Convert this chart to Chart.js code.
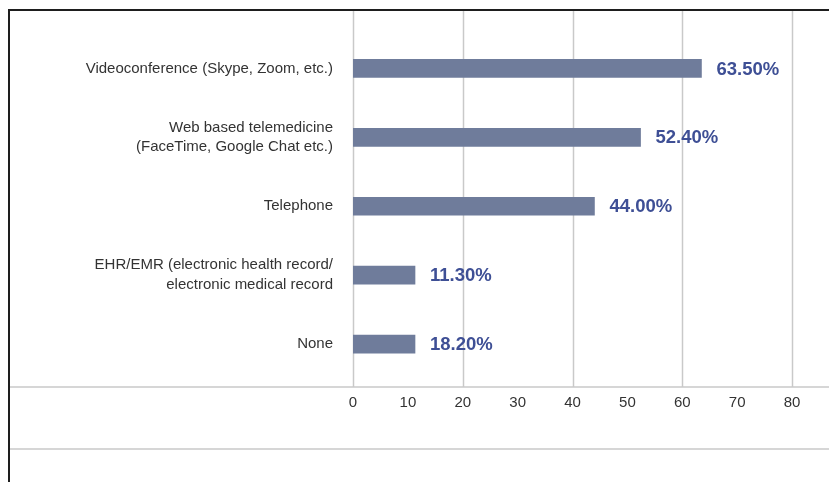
<!DOCTYPE html>
<html>
<head>
<meta charset="utf-8">
<script src="https://cdn.jsdelivr.net/npm/chart.js@4"></script>
<style>
  html, body { margin: 0; padding: 0; background: #fff; }
  #wrap { width: 829px; height: 482px; position: relative; }
</style>
</head>
<body>
<div id="wrap"><canvas id="barChart"></canvas></div>
<script>
// categories, bar lengths and the printed percentages
var categories = [
    "Videoconference (Skype, Zoom, etc.)",
    ["Web based telemedicine", "(FaceTime, Google Chat etc.)"],
    "Telephone",
    ["EHR/EMR (electronic health record/", "electronic medical record"],
    "None"
];
var barValues = [63.5, 52.4, 44.0, 11.3, 11.3];
var valueLabels = ["63.50%", "52.40%", "44.00%", "11.30%", "18.20%"];
var tickValues = [0, 10, 20, 30, 40, 50, 60, 70, 80];

var FONT = "'Liberation Sans', Arial, sans-serif";

// frame, grid lines and the value labels
var framePlugin = {
    id: 'frame',
    beforeDatasetsDraw: function (chart) {
        var c = chart.ctx;
        var xs = chart.scales.x;
        var W = chart.width;
        c.save();
        c.strokeStyle = '#c9c9c9';
        c.lineWidth = 1.5;
        for (var i = 0; i < tickValues.length; i++) {
            if (tickValues[i] % 20 !== 0) continue;
            var px = Math.round(xs.getPixelForValue(tickValues[i])) + 0.5;
            c.beginPath();
            c.moveTo(px, 10);
            c.lineTo(px, 387);
            c.stroke();
        }
        c.beginPath();
        c.moveTo(9, 387); c.lineTo(W, 387);
        c.moveTo(9, 449); c.lineTo(W, 449);
        c.stroke();
        c.strokeStyle = '#1e1e1e';
        c.lineWidth = 2;
        c.beginPath();
        c.moveTo(W, 10); c.lineTo(9, 10); c.lineTo(9, chart.height);
        c.stroke();
        c.restore();
    },
    afterDatasetsDraw: function (chart) {
        var c = chart.ctx;
        var meta = chart.getDatasetMeta(0);
        c.save();
        c.font = 'bold 18.5px ' + FONT;
        c.fillStyle = '#3e4f95';
        c.textAlign = 'left';
        c.textBaseline = 'middle';
        meta.data.forEach(function (bar, i) {
            c.fillText(valueLabels[i], bar.x + 15, bar.y + 1);
        });
        c.restore();
    }
};

var ctx = document.getElementById('barChart').getContext('2d');
var chart = new Chart(ctx, {
    type: 'bar',
    data: {
        labels: categories,
        datasets: [{
            data: barValues,
            backgroundColor: '#6f7c9b',
            barThickness: 18
        }]
    },
    options: {
        indexAxis: 'y',
        responsive: true,
        maintainAspectRatio: false,
        animation: false,
        events: [],
        layout: { padding: { top: 34, right: 37, left: 0, bottom: 0 } },
        plugins: {
            legend: { display: false },
            tooltip: { enabled: false }
        },
        scales: {
            x: {
                min: 0,
                max: 80,
                afterFit: function (s) { s.height = 482 - 378.5; },
                afterBuildTicks: function (s) {
                    s.ticks = tickValues.map(function (v) { return { value: v }; });
                },
                grid: { display: false },
                border: { display: false },
                ticks: {
                    color: '#333333',
                    font: { family: FONT, size: 15 },
                    padding: 7,
                    maxRotation: 0,
                    autoSkip: false
                }
            },
            y: {
                afterFit: function (s) { s.width = 353; },
                grid: { display: false },
                border: { display: false },
                ticks: {
                    color: '#333333',
                    font: { family: FONT, size: 15, lineHeight: 1.33 },
                    padding: 12,
                    autoSkip: false
                }
            }
        }
    },
    plugins: [framePlugin]
});
</script>
</body>
</html>
